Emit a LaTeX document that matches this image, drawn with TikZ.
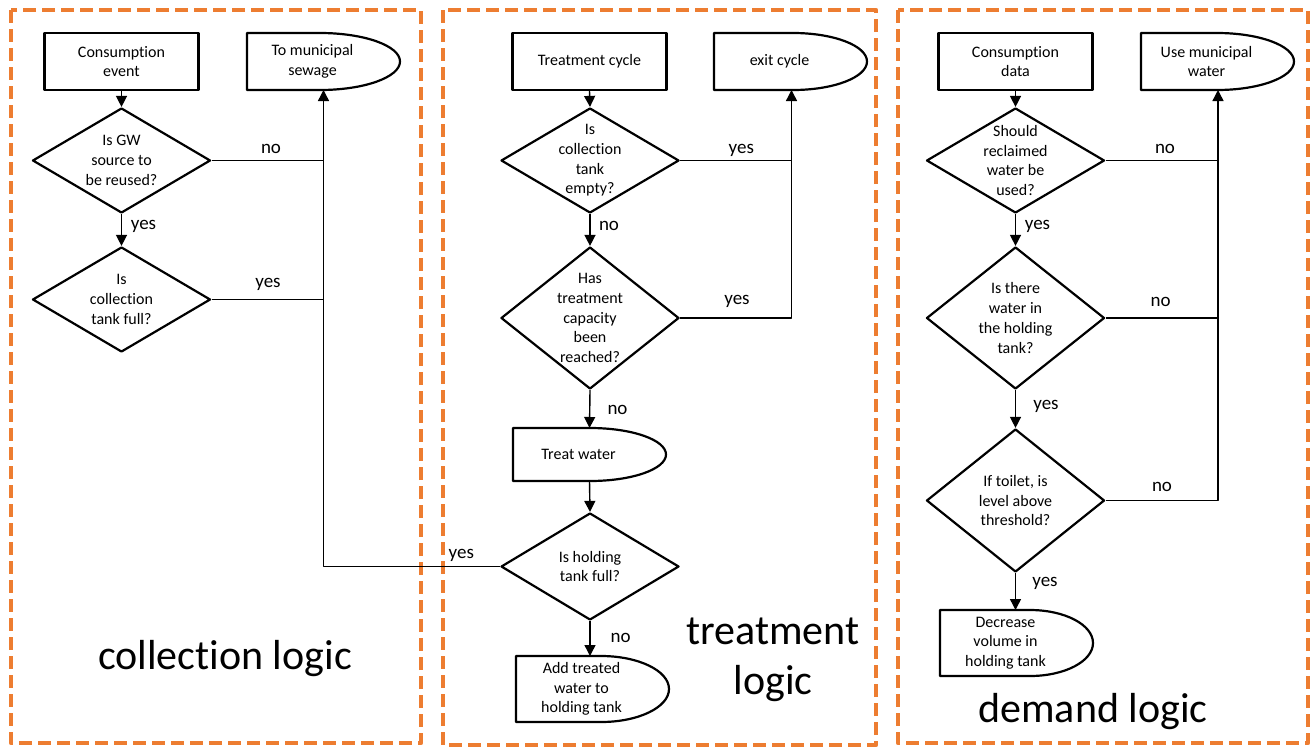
\documentclass[tikz,border=0pt]{standalone}
\usepackage{fontspec}
\setmainfont{Carlito}[Ligatures=NoCommon]
\usetikzlibrary{shapes.geometric,arrows.meta}
\definecolor{panelorange}{RGB}{237,125,49}
\newcommand{\delaybox}[4]{\draw[line width=2.2pt] (#1.north west) -- ++(#2,0) arc[start angle=90,end angle=-90,x radius=#3pt,y radius=#4pt] -- (#1.south west) -- cycle;}

\begin{document}
\begin{tikzpicture}[line join=round,x=1pt,y=-1pt,>={Triangle[length=11pt,width=11pt]},
	every node/.style={font=\fontsize{16}{19.7}\selectfont,align=center},
	box/.style={draw,line width=2.2pt,minimum width=154pt,minimum height=57pt,inner sep=0pt},
	decision/.style={diamond,draw,line width=2.2pt,minimum width=178pt,inner sep=-22pt,aspect=1.2},
	dnode/.style={minimum width=131pt,inner sep=0pt,outer sep=0pt},
	flow/.style={line width=1.4pt},
	panel/.style={draw=panelorange,line width=4.5pt,dash pattern=on 13pt off 6pt},
	lbl/.style={font=\fontsize{19}{22}\selectfont},
	title/.style={font=\fontsize{42}{50}\selectfont}]
		\useasboundingbox (0,0) rectangle (1311,747);
		\draw[panel] (11,10) rectangle (421,743);
		\draw[panel] (443,10) rectangle (876,745);
		\draw[panel] (898,10) rectangle (1308,743);
		\node[box] (cevent) at (121.5,61.5) {Consumption\\event};
		\node[dnode,minimum height=57pt] (sewage) at (312.5,61.5) {To municipal\\sewage};
		\node[decision,minimum height=105pt] (gwsrc) at (121.5,160.5) {Is GW\\source to\\be reused?};
		\node[decision,minimum height=105pt] (ctfull) at (121.5,299.5) {Is\\collection\\tank full?};
		\node[box] (tcycle) at (589.5,61.5) {Treatment cycle};
		\node[dnode,minimum height=57pt] (exitc) at (779.5,61.5) {exit cycle};
		\node[decision,minimum height=105pt] (ctempty) at (590,160.5) {Is\\collection\\tank\\empty?};
		\node[decision,minimum height=142pt] (capreach) at (590,318) {Has\\treatment\\capacity\\been\\reached?};
		\node[dnode,minimum height=53pt] (treat) at (578.5,454.5) {Treat water};
		\node[decision,minimum height=107pt] (htfull) at (590,566.5) {Is holding\\tank full?};
		\node[dnode,minimum height=66pt] (addw) at (581.5,689) {Add treated\\water to\\holding tank};
		\node[box] (cdata) at (1015.5,61.5) {Consumption\\data};
		\node[dnode,minimum height=57pt] (usemun) at (1206.5,61.5) {Use municipal\\water};
		\node[decision,minimum height=105pt] (reclaim) at (1015.5,160.5) {Should\\reclaimed\\water be\\used?};
		\node[decision,minimum height=142pt] (waterin) at (1015.5,318) {Is there\\water in\\the holding\\tank?};
		\node[decision,minimum height=143pt] (toilet) at (1015.5,500.5) {If toilet, is\\level above\\threshold?};
		\node[dnode,minimum height=66pt] (decr) at (1005.5,643) {Decrease\\volume in\\holding tank};
		\delaybox{sewage}{73}{80}{28.5}
		\delaybox{exitc}{79}{74}{28.5}
		\delaybox{treat}{77}{76}{26.5}
		\delaybox{addw}{85}{68}{33}
		\delaybox{usemun}{76}{77}{28.5}
		\delaybox{decr}{90}{63}{33}
		\coordinate (sewbus) at ([xshift=11pt]sewage.south);
		\coordinate (exitbus) at ([xshift=12pt]exitc.south);
		\coordinate (munbus) at ([xshift=11.5pt]usemun.south);
		\draw[flow,->] (cevent.south) -- (gwsrc.north);
		\draw[flow,->] (gwsrc.south) -- (ctfull.north);
		\draw[flow] (gwsrc.east) -- (gwsrc.east -| sewbus);
		\draw[flow] (ctfull.east) -- (ctfull.east -| sewbus);
		\draw[flow,->] (htfull.west) -| (sewbus);
		\draw[flow,->] (tcycle.south) -- (ctempty.north);
		\draw[flow,->] (ctempty.south) -- (capreach.north);
		\draw[flow] (ctempty.east) -- (ctempty.east -| exitbus);
		\draw[flow,->] (capreach.east) -| (exitbus);
		\draw[flow,->] (capreach.south) -- ([xshift=11pt]treat.north);
		\draw[flow,->] ([xshift=11pt]treat.south) -- (htfull.north);
		\draw[flow,->] (htfull.south) -- ([xshift=8.5pt]addw.north);
		\draw[flow,->] (cdata.south) -- (reclaim.north);
		\draw[flow,->] (reclaim.south) -- (waterin.north);
		\draw[flow,->] (waterin.south) -- (toilet.north);
		\draw[flow,->] (toilet.south) -- ([xshift=10pt]decr.north);
		\draw[flow] (reclaim.east) -- (reclaim.east -| munbus);
		\draw[flow] (waterin.east) -- (waterin.east -| munbus);
		\draw[flow,->] (toilet.east) -| (munbus);
		\node[lbl] (gwno) at (271,149) {no};
		\node[lbl] (gwyes) at (143.5,226.7) {yes};
		\node[lbl] (ctyes) at (268,284.5) {yes};
		\node[lbl] (emyes) at (741.3,150) {yes};
		\node[lbl] (emno) at (609,226) {no};
		\node[lbl] (capyes) at (737,301.7) {yes};
		\node[lbl] (capno) at (617.5,409.5) {no};
		\node[lbl] (htyes) at (461.3,555) {yes};
		\node[lbl] (htno) at (620.7,637.5) {no};
		\node[lbl] (reno) at (1165,149) {no};
		\node[lbl] (reyes) at (1037.5,226.7) {yes};
		\node[lbl] (wino) at (1160.7,301.7) {no};
		\node[lbl] (wiyes) at (1046,406.7) {yes};
		\node[lbl] (tono) at (1162,487) {no};
		\node[lbl] (toyes) at (1045,583) {yes};
		\node[title] (coltitle) at (225,659) {collection logic};
		\node[title] (trttitle) at (773,660) {treatment\\logic};
		\node[title] (demtitle) at (1093,712) {demand logic};
	\end{tikzpicture}
\end{document}
